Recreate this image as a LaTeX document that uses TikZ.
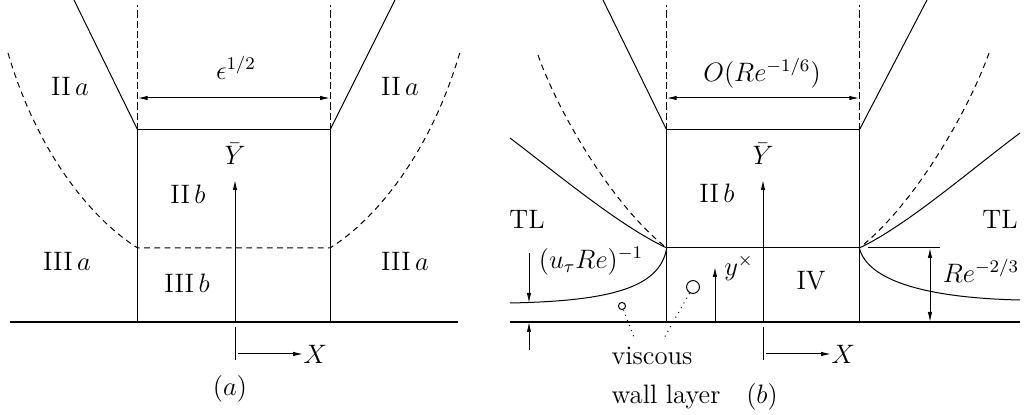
\documentclass[tikz,border=0pt]{standalone}
\usetikzlibrary{arrows.meta}
\begin{document}
\begin{tikzpicture}[
    x=0.45pt, y=-0.45pt,
    >={Latex[length=4.5pt, width=2pt]},
    % line styles
    wallLine/.style={line width=0.9pt},
    edgeLine/.style={line width=0.45pt},
    dashLine/.style={line width=0.45pt, dash pattern=on 3.2pt off 1.4pt},
    curveDash/.style={line width=0.45pt, dash pattern=on 2.6pt off 2pt},
    lbl/.style={inner sep=0pt, font=\large},
    bubble/.style={draw, circle, inner sep=0pt, line width=0.45pt}
]
\useasboundingbox (0,0) rectangle (1024,415);

% ================= PANEL (a) =================
    % --- corners of the central strip ---
    \coordinate (aTL) at (137.7,130);
    \coordinate (aTR) at (330,130);
    \coordinate (aML) at (137.7,248);
    \coordinate (aMR) at (330,248);
    \coordinate (aBL) at (137.7,322);
    \coordinate (aBR) at (330,322);
    \coordinate (aOrig) at (235,322);

    % wall
    \draw[wallLine] (10,322) -- (458,322);

    % strip and its upward continuation
    \draw[edgeLine] (aBL) -- (aTL) -- (aTR) -- (aBR);
    \draw[dashLine] (aTL) -- (137.7,5);
    \draw[dashLine] (aTR) -- (330,5);
    \draw[edgeLine] (aTL) -- (74,0);
    \draw[edgeLine] (aTR) -- (395,0);

    % width of the strip
    \draw[<->, edgeLine] (137.7,98) -- (330,98);
    \node[lbl] (aWidth) at (236,68) {$\epsilon^{1/2}$};

    % dashed boundary between II and III
    \draw[curveDash] (8,53) .. controls (38,155) and (93,220) .. (aML) -- (aMR)
        .. controls (374.7,220) and (429.7,155) .. (459.7,53);

    % axes
    \node[lbl] (aYbar) at (235,154) {$\bar Y$};
    \draw[->, edgeLine] (aOrig) -- (235,180);
    \draw[edgeLine] (235,327) -- (235,360);
    \coordinate (aXstart) at (238,354);
    \node[lbl, anchor=west] (aX) at (303,354) {$X$};
    \draw[->, edgeLine] (aXstart) -- (aX.west);

    % region labels
    \node[lbl] (aIIaL) at (70,86) {II\,$a$};
    \node[lbl] (aIIaR) at (400,86) {II\,$a$};
    \node[lbl] (aIIb) at (188,194) {II\,$b$};
    \node[lbl] (aIIIaL) at (67,261) {III\,$a$};
    \node[lbl] (aIIIaR) at (405,261) {III\,$a$};
    \node[lbl] (aIIIb) at (187,283) {III\,$b$};
    \node[lbl] (aTag) at (230,389) {$(a)$};

% ================= PANEL (b) =================
    \coordinate (bTL) at (666.7,130);
    \coordinate (bTR) at (859.3,130);
    \coordinate (bML) at (666.7,248);
    \coordinate (bMR) at (859.3,248);
    \coordinate (bBL) at (666.7,322);
    \coordinate (bBR) at (859.3,322);
    \coordinate (bOrig) at (763,322);

    % wall
    \draw[wallLine] (510,322) -- (1020,322);

    % strip, split into II b and IV
    \draw[edgeLine] (bBL) -- (bTL) -- (bTR) -- (bBR);
    \draw[edgeLine] (bML) -- (bMR);
    \draw[dashLine] (bTL) -- (666.7,5);
    \draw[dashLine] (bTR) -- (859.3,5);
    \draw[edgeLine] (bTL) -- (603,0);
    \draw[edgeLine] (bTR) -- (927,0);

    % width of the strip
    \draw[<->, edgeLine] (666.7,98) -- (859.3,98);
    \node[lbl] (bWidth) at (762,73) {$O\bigl(Re^{-1/6}\bigr)$};

    % edges of the turbulent layer
    \draw[edgeLine] (510,138) .. controls (560,176) and (620,226) .. (bML);
    \draw[edgeLine] (1020,133) .. controls (968,172) and (906,226) .. (bMR);
    \draw[curveDash] (538,55) .. controls (558,112) and (612,205) .. (bML);
    \draw[curveDash] (989,53) .. controls (968,112) and (914,205) .. (bMR);

    % edges of the viscous wall layer
    \draw[edgeLine] (bML) .. controls (660,288) and (610,301) .. (510,303);
    \draw[edgeLine] (bMR) .. controls (868,282) and (930,298) .. (1020,300);

    % thickness of the viscous wall layer
    \coordinate (visTop) at (529,303);
    \coordinate (visBot) at (529,322);
    \draw[->, edgeLine] (529,253) -- (visTop);
    \draw[->, edgeLine] (529,350) -- (visBot);
    \node[lbl] (bUtau) at (591,261) {$(u_\tau Re)^{-1}$};

    % thickness of region IV
    \coordinate (ivTop) at (930,248);
    \coordinate (ivBot) at (930,322);
    \draw[edgeLine] (868,248) -- (940,248);
    \draw[<->, edgeLine] (ivTop) -- (ivBot);
    \node[lbl] (bRe) at (981,271) {$Re^{-2/3}$};

    % axes
    \node[lbl] (bYbar) at (763,154) {$\bar Y$};
    \draw[->, edgeLine] (bOrig) -- (763,180);
    \draw[->, edgeLine] (715,322) -- (715,267);
    \node[lbl] (bYcross) at (739,268) {$y^{\times}$};
    \draw[edgeLine] (763,327) -- (763,360);
    \coordinate (bXstart) at (766,354);
    \node[lbl, anchor=west] (bX) at (831,354) {$X$};
    \draw[->, edgeLine] (bXstart) -- (bX.west);

    % bubbles pointing to the viscous wall layer
    \node[bubble, minimum size=3.2pt] (bubSmall) at (622,306) {};
    \node[bubble, minimum size=5.8pt] (bubLarge) at (693,287) {};
    \node[lbl, anchor=base] (visc) at (652,365) {viscous};
    \coordinate (dotA) at (635,340);
    \coordinate (dotB) at (663,340);
    \draw[dotted, edgeLine] (bubSmall) -- (dotA);
    \draw[dotted, edgeLine] (bubLarge) -- (dotB);

    % region labels
    \node[lbl] (bTLL) at (527,219) {TL};
    \node[lbl] (bTLR) at (1000,219) {TL};
    \node[lbl] (bIIb) at (717,193) {II\,$b$};
    \node[lbl] (bIV) at (811,281) {IV};
    \node[lbl, anchor=base] (bWall) at (666,404) {wall layer};
    \node[lbl, anchor=base] (bTag) at (762,404) {$(b)$};

\end{tikzpicture}
\end{document}
